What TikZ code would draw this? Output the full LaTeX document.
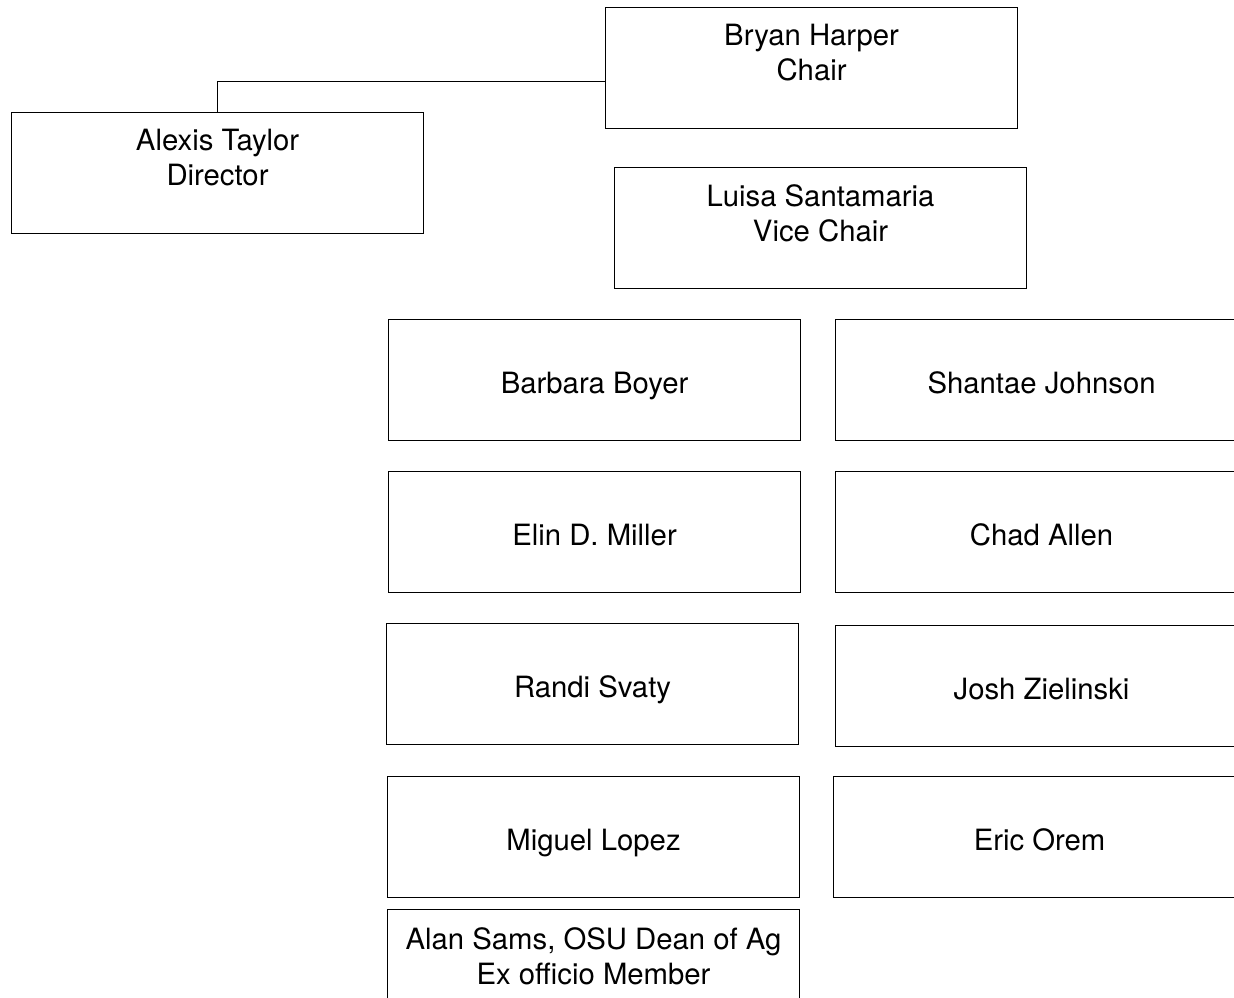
\documentclass[tikz,border=0pt]{standalone}
\usepackage{fontspec}
\setmainfont{TeX Gyre Heros}
\usetikzlibrary{positioning}

\tikzset{
  member/.style={draw, line width=1.1pt, minimum width=412pt, minimum height=121pt,
    anchor=north west, inner sep=0pt, text height=27pt, text depth=0pt,
    font=\fontsize{29.3}{35}\selectfont},
  toptext/.style={anchor=north, align=center, inner sep=0pt, yshift=-17pt,
    font=\fontsize{29.3}{35}\selectfont}
}

\begin{document}
\begin{tikzpicture}[x=1pt,y=-1pt]
\useasboundingbox (0,0) rectangle (1234,997);

% Officers
\node[member] (chair) at (605,7) {};
\node[toptext] (chairtxt) at (chair.north) {Bryan Harper\\Chair};
\node[member] (director) at (11,112) {};
\node[toptext] (directortxt) at (director.north) {Alexis Taylor\\Director};
\node[member] (vice) at (614,167) {};
\node[toptext] (vicetxt) at (vice.north) {Luisa Santamaria\\Vice Chair};

% Link
\draw[line width=1.1pt] (director.north) |- ([yshift=-13pt]chair.west);

% Members
\node[member] (boyer) at (388,319) {Barbara Boyer};
\node[member] (johnson) at (835,319) {Shantae Johnson};
\node[member] (miller) at (388,471) {Elin D. Miller};
\node[member] (allen) at (835,471) {Chad Allen};
\node[member] (svaty) at (386,623) {Randi Svaty};
\node[member] (zielinski) at (835,625) {Josh Zielinski};
\node[member] (lopez) at (387,776) {Miguel Lopez};
\node[member] (orem) at (833,776) {Eric Orem};

% Ex officio
\node[member] (sams) at (387,909) {};
\node[toptext,yshift=-1pt] (samstxt) at (sams.north) {Alan Sams, OSU Dean of Ag\\Ex officio Member};
\end{tikzpicture}
\end{document}
